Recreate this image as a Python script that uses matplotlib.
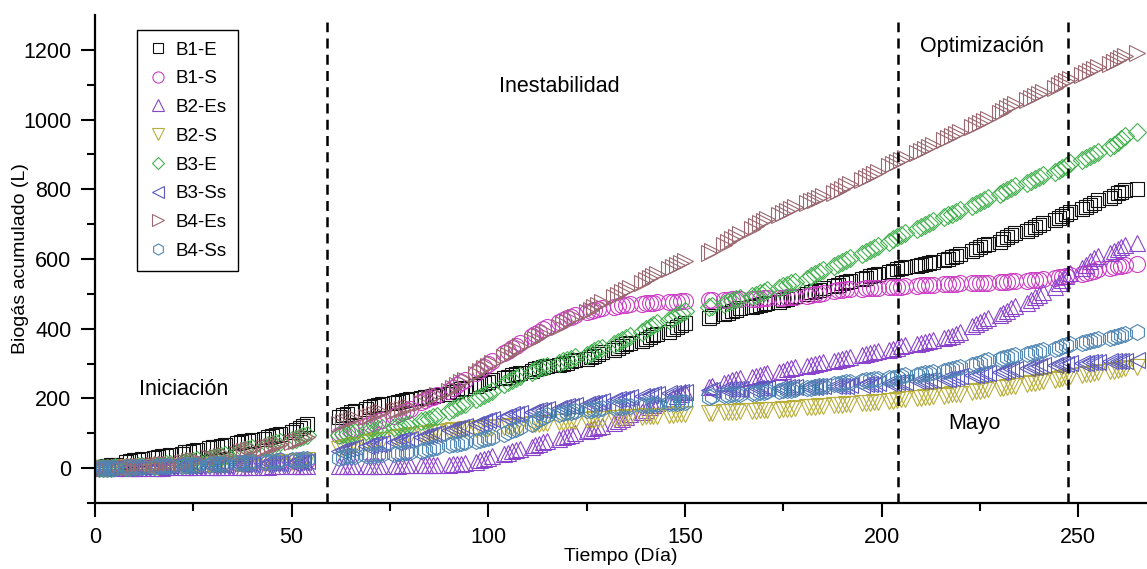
import matplotlib
matplotlib.use("Agg")
import matplotlib.pyplot as plt
from matplotlib.ticker import MultipleLocator, FixedLocator

plt.rcParams['font.family'] = ['Liberation Sans', 'DejaVu Sans']

# measurement days (weekdays), gap between the two campaigns
days = [1, 2, 3, 4, 5, 8, 9, 10, 11, 12, 15, 16, 17, 18, 19, 22, 23, 24, 25, 26,
        29, 30, 31, 32, 33, 36, 37, 38, 39, 40, 43, 44, 45, 46, 47, 50, 51, 52, 53, 54,
        62, 63, 64, 65, 66, 69, 70, 71, 72, 73, 76, 77, 78, 79, 80, 83, 84, 85, 86, 87,
        90, 91, 92, 93, 94, 97, 98, 99, 100, 101, 104, 105, 106, 107, 108,
        111, 112, 113, 114, 115, 118, 119, 120, 121, 122, 125, 126, 127, 128, 129,
        132, 133, 134, 135, 136, 139, 140, 141, 142, 143, 146, 147, 148, 149, 150,
        156, 157, 160, 161, 162, 163, 164, 167, 168, 169, 170, 171,
        174, 175, 176, 177, 178, 181, 182, 183, 184, 185, 188, 189, 190, 191, 192,
        195, 196, 197, 198, 199, 202, 203, 204, 205, 206, 209, 210, 211, 212, 213,
        216, 217, 218, 219, 220, 223, 224, 225, 226, 227, 230, 231, 232, 233, 234,
        237, 238, 239, 240, 241, 244, 245, 246, 247, 248, 251, 252, 253, 254, 255,
        258, 259, 260, 261, 262, 265]

b1_e = [2, 4, 6, 8, 10, 18, 20, 22, 24, 26, 30, 32, 34, 35, 37, 42, 45, 47, 50, 52,
        58, 60, 62, 64, 66, 72, 74, 77, 79, 82, 85, 88, 92, 95, 98, 105, 110, 115, 120, 126,
        148, 152, 156, 160, 163, 170, 174, 178, 181, 184, 188, 191, 194, 196, 198,
        200, 203, 205, 207, 210, 214, 218, 222, 226, 230, 236, 240, 244, 248, 252,
        258, 262, 266, 270, 274, 280, 284, 287, 290, 293, 297, 300, 303, 306, 309,
        313, 318, 323, 328, 333, 340, 345, 350, 355, 360, 366, 371, 376, 381, 386,
        392, 398, 404, 410, 415, 430, 436, 442, 446, 450, 454, 458, 462, 465, 468, 471, 474,
        478, 482, 486, 490, 494, 500, 504, 508, 512, 516, 522, 526, 530, 534, 538,
        542, 546, 550, 554, 557, 562, 566, 570, 573, 576, 580, 583, 586, 589, 592,
        596, 600, 605, 610, 615, 622, 628, 634, 639, 644, 650, 656, 662, 668, 674,
        680, 686, 692, 698, 704, 712, 718, 724, 730, 736, 744, 750, 756, 762, 768,
        776, 782, 788, 793, 797, 800]

b1_s = [0, 0, 1, 1, 2, 3, 3, 4, 4, 5, 6, 6, 7, 7, 8, 9, 9, 10, 10, 11,
        12, 12, 13, 13, 14, 15, 15, 16, 16, 17, 18, 18, 19, 19, 20, 21, 21, 22, 22, 23,
        96, 100, 104, 108, 112, 122, 126, 130, 134, 138, 150, 155, 160, 165, 170,
        190, 195, 200, 205, 210, 222, 230, 238, 246, 254, 272, 281, 290, 299, 308,
        330, 337, 344, 351, 358, 380, 386, 392, 398, 404, 420, 425, 430, 435, 440,
        448, 451, 454, 457, 460, 463, 465, 467, 469, 470, 472, 473, 474, 475, 476,
        477, 478, 478, 479, 480, 481, 482, 483, 483, 484, 484, 485, 485, 486, 486, 487, 487,
        488, 489, 490, 491, 492, 495, 497, 499, 501, 503, 508, 510, 512, 513, 514,
        515, 516, 517, 517, 518, 519, 520, 520, 521, 522, 523, 524, 525, 525, 526,
        527, 528, 528, 529, 530, 530, 531, 531, 532, 532, 533, 534, 535, 536, 537,
        538, 539, 540, 541, 542, 545, 547, 549, 551, 553, 558, 561, 564, 567, 570,
        574, 577, 579, 581, 583, 585]

b2_es = [0, 0, 0, 0, 0, 0, 0, 1, 1, 1, 1, 1, 1, 2, 2, 2, 2, 2, 2, 3,
         3, 3, 3, 3, 3, 3, 4, 4, 4, 4, 4, 4, 5, 5, 5, 5, 5, 5, 6, 6,
         5, 5, 5, 5, 6, 6, 6, 6, 7, 7, 7, 7, 8, 8, 8,
         8, 9, 9, 9, 10, 10, 11, 12, 13, 14, 18, 22, 26, 30, 34,
         40, 44, 48, 52, 56, 62, 66, 70, 74, 78, 84, 88, 92, 96, 100,
         106, 110, 114, 118, 122, 130, 136, 142, 148, 154, 162, 168, 174, 180, 186,
         194, 200, 206, 212, 218, 232, 236, 244, 248, 252, 256, 259, 262, 265, 268, 271, 274,
         277, 280, 283, 286, 289, 292, 295, 298, 301, 304, 308, 311, 314, 317, 320,
         324, 327, 330, 333, 336, 340, 343, 346, 349, 352, 355, 358, 361, 364, 367,
         372, 376, 380, 385, 390, 408, 414, 420, 426, 432, 440, 446, 452, 458, 464,
         474, 482, 490, 498, 506, 520, 530, 540, 550, 560, 574, 584, 594, 602, 610,
         618, 624, 630, 635, 640, 645]

b2_s = [0, 0, 1, 1, 1, 2, 2, 3, 3, 3, 4, 4, 5, 5, 6, 6, 7, 7, 8, 8,
        9, 9, 10, 10, 11, 12, 12, 13, 13, 14, 15, 15, 16, 16, 17, 18, 19, 20, 21, 22,
        55, 58, 61, 64, 67, 72, 75, 78, 80, 82, 86, 88, 90, 92, 94,
        97, 99, 101, 103, 105, 107, 108, 109, 110, 111, 113, 114, 115, 116, 117,
        119, 120, 121, 122, 123, 126, 127, 128, 129, 130, 132, 133, 134, 135, 136,
        138, 139, 140, 141, 142, 143, 144, 145, 146, 147, 148, 149, 150, 150, 151,
        152, 153, 154, 154, 155, 157, 158, 160, 161, 162, 162, 163, 164, 165, 166, 166, 167,
        168, 169, 170, 171, 172, 174, 175, 176, 177, 178, 180, 181, 182, 183, 184,
        186, 187, 188, 189, 190, 192, 194, 196, 197, 198, 200, 202, 204, 205, 206,
        208, 210, 212, 213, 214, 218, 220, 222, 224, 226, 229, 231, 233, 235, 237,
        241, 243, 245, 247, 249, 252, 255, 258, 261, 264, 267, 269, 271, 273, 275,
        278, 280, 282, 284, 286, 290]

b3_e = [0, 0, 1, 1, 2, 3, 3, 4, 5, 6, 8, 9, 10, 11, 12, 15, 17, 19, 21, 23,
        27, 30, 33, 36, 39, 44, 48, 52, 55, 58, 62, 65, 68, 71, 74, 80, 84, 88, 92, 96,
        95, 97, 99, 101, 103, 106, 108, 110, 112, 114, 118, 120, 122, 124, 126,
        134, 138, 142, 146, 150, 165, 170, 175, 180, 185, 198, 204, 210, 216, 222,
        240, 246, 252, 258, 264, 276, 281, 286, 290, 294, 302, 306, 310, 314, 318,
        326, 331, 336, 341, 346, 356, 362, 368, 374, 380, 392, 398, 404, 410, 416,
        426, 432, 438, 444, 450, 462, 466, 472, 476, 480, 484, 488, 494, 498, 502, 506, 510,
        518, 522, 526, 530, 534, 544, 550, 556, 562, 568, 580, 586, 592, 598, 604,
        614, 620, 626, 632, 638, 650, 656, 662, 668, 674, 686, 692, 698, 704, 710,
        720, 725, 730, 735, 740, 752, 758, 764, 770, 776, 786, 792, 798, 804, 810,
        818, 824, 830, 836, 842, 850, 856, 862, 868, 874, 884, 890, 896, 902, 908,
        920, 928, 936, 944, 952, 965]

b3_ss = [0, 0, 0, 1, 1, 1, 2, 2, 2, 3, 3, 4, 4, 5, 5, 6, 6, 7, 7, 8,
         8, 9, 9, 10, 10, 11, 11, 12, 12, 13, 13, 14, 14, 15, 15, 16, 17, 18, 19, 20,
         50, 53, 56, 58, 60, 64, 66, 68, 70, 72, 76, 78, 80, 82, 84,
         90, 93, 96, 99, 102, 108, 111, 114, 117, 120, 126, 130, 134, 138, 142,
         148, 151, 154, 156, 158, 162, 164, 166, 168, 170, 173, 175, 177, 179, 181,
         184, 186, 188, 190, 192, 195, 197, 199, 201, 203, 206, 208, 210, 212, 213,
         215, 216, 217, 218, 219, 224, 225, 226, 226, 227, 227, 228, 228, 229, 229, 230, 230,
         231, 231, 232, 232, 233, 233, 234, 234, 235, 235, 236, 236, 237, 237, 238,
         239, 240, 241, 242, 243, 244, 245, 246, 247, 248, 249, 250, 251, 252, 253,
         255, 257, 259, 261, 263, 266, 268, 270, 272, 274, 277, 279, 281, 283, 285,
         287, 289, 291, 293, 295, 297, 298, 299, 300, 301, 302, 303, 304, 305, 305,
         306, 307, 307, 308, 308, 309]

b4_es = [0, 0, 1, 1, 2, 3, 4, 5, 6, 7, 9, 10, 11, 12, 13, 16, 18, 20, 22, 24,
         28, 30, 32, 35, 38, 42, 45, 48, 51, 54, 58, 61, 64, 67, 70, 74, 78, 82, 86, 90,
         128, 132, 136, 140, 144, 148, 151, 154, 157, 160, 164, 167, 170, 173, 176,
         186, 192, 198, 204, 210, 222, 230, 238, 246, 254, 270, 278, 286, 294, 302,
         318, 326, 334, 342, 350, 364, 371, 378, 385, 392, 406, 413, 420, 427, 434,
         448, 455, 462, 469, 476, 490, 497, 504, 511, 518, 532, 539, 546, 552, 558,
         570, 576, 582, 588, 594, 618, 624, 640, 648, 656, 664, 672, 686, 694, 702, 708, 714,
         726, 732, 738, 744, 750, 760, 765, 770, 775, 780, 790, 796, 802, 808, 814,
         826, 832, 838, 844, 850, 866, 872, 878, 884, 890, 904, 910, 916, 922, 928,
         940, 946, 952, 958, 964, 978, 984, 990, 996, 1002, 1020, 1026, 1032, 1038, 1044,
         1056, 1062, 1068, 1074, 1080, 1092, 1098, 1104, 1110, 1116, 1128, 1134, 1140, 1146, 1152,
         1160, 1166, 1171, 1176, 1181, 1190]

b4_ss = [0, 0, 1, 1, 1, 2, 2, 3, 3, 4, 4, 5, 5, 6, 6, 7, 8, 8, 9, 10,
         10, 11, 12, 12, 13, 14, 15, 16, 17, 18, 18, 19, 20, 21, 22, 22, 23, 24, 25, 26,
         30, 32, 34, 35, 36, 37, 38, 39, 40, 41, 42, 43, 44, 45, 46,
         50, 53, 56, 59, 62, 66, 68, 70, 72, 74, 78, 81, 84, 87, 90,
         98, 103, 108, 113, 118, 128, 134, 140, 146, 152, 156, 158, 160, 162, 164,
         166, 168, 170, 171, 172, 174, 175, 176, 177, 178, 180, 181, 182, 183, 184,
         186, 187, 188, 189, 190, 204, 206, 210, 211, 212, 213, 214, 216, 217, 218, 219, 220,
         222, 223, 224, 225, 226, 229, 231, 233, 235, 237, 240, 242, 244, 246, 248,
         250, 252, 254, 255, 256, 258, 260, 262, 264, 266, 268, 270, 272, 274, 276,
         279, 282, 285, 288, 291, 295, 299, 303, 306, 309, 313, 316, 319, 322, 325,
         328, 331, 334, 337, 340, 343, 346, 349, 352, 355, 359, 362, 365, 368, 371,
         374, 377, 380, 383, 386, 390]

names = ["B1-E", "B1-S", "B2-Es", "B2-S", "B3-E", "B3-Ss", "B4-Es", "B4-Ss"]
series = [b1_e, b1_s, b2_es, b2_s, b3_e, b3_ss, b4_es, b4_ss]
markers = ["s", "o", "^", "v", "D", "<", ">", "h"]
colors = ["#111111", "#cc3fc4", "#8a44cc", "#b8ae3c", "#45b050", "#5a58bc", "#9a6870", "#4f86b4"]
sizes = [10.5, 11.5, 12, 11.5, 9, 12, 12, 11.5]

stage_lines = [59, 204.2, 247.5]

fig = plt.figure(figsize=(11.47, 5.69), dpi=100)
ax = fig.add_axes([95 / 1147, 66 / 569, 1052 / 1147, 488 / 569])

for name, vals, m, c, s in zip(names, series, markers, colors, sizes):
    ax.plot(days, vals, linestyle="none", marker=m, markersize=s,
            markerfacecolor="none", markeredgecolor=c, markeredgewidth=0.8, label=name)

for x in stage_lines:
    ax.axvline(x, ymin=0, ymax=0.985, color="black", lw=1.8, linestyle=(0, (4, 2.5)))

ax.text(22.5, 227, "Iniciación", fontsize=15.5, ha="center", va="center")
ax.text(118, 1096, "Inestabilidad", fontsize=15.5, ha="center", va="center")
ax.text(225.5, 1210, "Optimización", fontsize=15.5, ha="center", va="center")
ax.text(223.5, 129, "Mayo", fontsize=15.5, ha="center", va="center")

ax.set_xlim(0, 267.5)
ax.set_ylim(-100, 1300)
ax.xaxis.set_major_locator(MultipleLocator(50))
ax.xaxis.set_minor_locator(MultipleLocator(25))
ax.yaxis.set_major_locator(FixedLocator(range(0, 1201, 200)))
ax.yaxis.set_minor_locator(FixedLocator(range(-100, 1201, 100)))

for sp in ["top", "right"]:
    ax.spines[sp].set_visible(False)
for sp in ["left", "bottom"]:
    ax.spines[sp].set_linewidth(1.6)

ax.tick_params(which="major", direction="out", length=10, width=1.5, labelsize=15.5, pad=7)
ax.tick_params(which="minor", direction="out", length=5.5, width=1.5)

ax.set_xlabel("Tiempo (Día)", fontsize=14, labelpad=0)
ax.set_ylabel("Biogás acumulado (L)", fontsize=14, labelpad=-4)

leg = ax.legend(loc="upper left", bbox_to_anchor=(0.040, 0.969), borderaxespad=0,
                fontsize=13.5, markerscale=0.7, handlelength=1.0, handletextpad=0.45,
                borderpad=0.6, labelspacing=0.62, fancybox=False, framealpha=1,
                edgecolor="black")
leg.get_frame().set_linewidth(1.0)

fig.savefig("out.png", dpi=100)
